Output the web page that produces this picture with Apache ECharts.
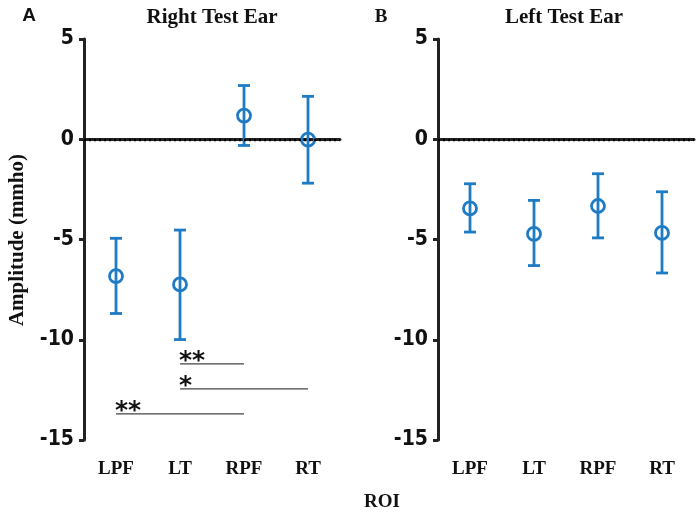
<!DOCTYPE html>
<html>
<head>
<meta charset="utf-8">
<script src="https://cdn.jsdelivr.net/npm/echarts@6/dist/echarts.min.js"></script>
<style>html,body{margin:0;padding:0;background:#fff}#c{width:700px;height:515px}</style>
</head>
<body>
<div id="c"></div>
<script>
// ---- data ----
const categories = ['LPF', 'LT', 'RPF', 'RT'];
const yTicks = [5, 0, -5, -10, -15];
// Right test ear: mean, lower, upper
const rightMean  = [-6.83, -7.24, 1.18, -0.02];
const rightLower = [-8.69, -9.99, -0.31, -2.19];
const rightUpper = [-4.94, -4.53, 2.68, 2.14];
// Left test ear
const leftMean  = [-3.45, -4.72, -3.33, -4.67];
const leftLower = [-4.63, -6.30, -4.92, -6.67];
const leftUpper = [-2.22, -3.05, -1.72, -2.62];
// significance brackets (right ear): from category, to category, y level, label
const sigFrom  = ['LT', 'LT', 'LPF'];
const sigTo    = ['RPF', 'RT', 'RPF'];
const sigY     = [-11.2, -12.45, -13.7];
const sigLabel = ['**', '*', '**'];

const BLUE = '#1f7bc4';
const AXIS = '#222';
const SERIF = "'Liberation Serif', 'DejaVu Serif', serif";
const NARROW = "'Liberation Sans Narrow', 'DejaVu Sans Condensed', sans-serif";

const chart = echarts.init(document.getElementById('c'));

function xAxisCfg(gi) {
  return {
    type: 'category', gridIndex: gi, data: categories, boundaryGap: true,
    axisLine: { lineStyle: { color: AXIS, width: 3 } },
    axisTick: { alignWithLabel: true, length: 6, lineStyle: { color: AXIS, width: 3 } },
    axisLabel: { margin: 20, color: '#111', fontFamily: SERIF, fontWeight: 'bold', fontSize: 19 },
    splitLine: { show: false }
  };
}
function yAxisCfg(gi) {
  return {
    type: 'value', gridIndex: gi, min: -15, max: 5, interval: 5,
    axisLine: { show: true, lineStyle: { color: AXIS, width: 3 } },
    axisTick: { show: true, length: 5, lineStyle: { color: AXIS, width: 3 } },
    axisLabel: { margin: 10, color: '#111', fontFamily: NARROW, fontWeight: 'bold', fontSize: 21,
      formatter: v => yTicks.includes(v) ? String(v) : '' },
    splitLine: { show: false }
  };
}

function errData(mean, lo, hi) {
  return categories.map((c, i) => [i, mean[i], lo[i], hi[i]]);
}
function errRender(params, api) {
  const x = api.value(0);
  const lo = api.coord([x, api.value(2)]);
  const hi = api.coord([x, api.value(3)]);
  const hw = 6;
  const st = { stroke: BLUE, lineWidth: 2.8, fill: null };
  return {
    type: 'group',
    children: [
      { type: 'line', shape: { x1: lo[0], y1: lo[1], x2: hi[0], y2: hi[1] }, style: st },
      { type: 'line', shape: { x1: lo[0] - hw, y1: lo[1], x2: lo[0] + hw, y2: lo[1] }, style: st },
      { type: 'line', shape: { x1: hi[0] - hw, y1: hi[1], x2: hi[0] + hw, y2: hi[1] }, style: st }
    ]
  };
}
function scatterSeries(gi, mean) {
  return {
    type: 'scatter', xAxisIndex: gi, yAxisIndex: gi, z: 2,
    data: mean.map((m, i) => [i, m]),
    symbol: 'circle', symbolSize: 13,
    itemStyle: { color: 'rgba(0,0,0,0)', borderColor: BLUE, borderWidth: 2.8, opacity: 1 },
    emphasis: { disabled: true },
    markLine: {
      silent: true, symbol: ['none', 'none'], label: { show: false },
      lineStyle: { type: [2, 3], color: '#000', width: 2.4 },
      data: [{ yAxis: 0 }], animation: false
    }
  };
}

const sigData = sigFrom.map((f, i) => [categories.indexOf(f), categories.indexOf(sigTo[i]), sigY[i], sigLabel[i]]);

const option = {
  animation: false,
  backgroundColor: '#fff',
  grid: [
    { left: 84, top: 39, width: 256, height: 401 },
    { left: 438, top: 39, width: 256, height: 401 }
  ],
  xAxis: [xAxisCfg(0), xAxisCfg(1)],
  yAxis: [yAxisCfg(0), yAxisCfg(1)],
  graphic: [
    { type: 'text', x: 29, y: 16, style: { text: 'A', textAlign: 'center', textVerticalAlign: 'middle', font: "bold 19px 'Liberation Sans', sans-serif", fill: '#111' } },
    { type: 'text', x: 212, y: 18, style: { text: 'Right Test Ear', textAlign: 'center', textVerticalAlign: 'middle', font: "bold 21px " + SERIF, fill: '#111' } },
    { type: 'text', x: 381, y: 17, style: { text: 'B', textAlign: 'center', textVerticalAlign: 'middle', font: "bold 19px " + SERIF, fill: '#111' } },
    { type: 'text', x: 564, y: 18, style: { text: 'Left Test Ear', textAlign: 'center', textVerticalAlign: 'middle', font: "bold 21px " + SERIF, fill: '#111' } },
    { type: 'text', x: 18, y: 240, rotation: Math.PI / 2, style: { text: 'Amplitude (mmho)', textAlign: 'center', textVerticalAlign: 'middle', font: "bold 21px " + SERIF, fill: '#111' } },
    { type: 'text', x: 382, y: 502, style: { text: 'ROI', textAlign: 'center', textVerticalAlign: 'middle', font: "bold 19px " + SERIF, fill: '#111' } }
  ],
  series: [
    scatterSeries(0, rightMean),
    { type: 'custom', xAxisIndex: 0, yAxisIndex: 0, z: 3, data: errData(rightMean, rightLower, rightUpper), renderItem: errRender, silent: true },
    scatterSeries(1, leftMean),
    { type: 'custom', xAxisIndex: 1, yAxisIndex: 1, z: 3, data: errData(leftMean, leftLower, leftUpper), renderItem: errRender, silent: true },
    {
      type: 'custom', xAxisIndex: 0, yAxisIndex: 0, z: 4, silent: true, data: sigData,
      renderItem: function (params, api) {
        const a = api.coord([api.value(0), api.value(2)]);
        const b = api.coord([api.value(1), api.value(2)]);
        const label = sigData[params.dataIndex][3];
        return {
          type: 'group',
          children: [
            { type: 'line', shape: { x1: a[0], y1: a[1], x2: b[0], y2: b[1] }, style: { stroke: '#444', lineWidth: 1.2 } },
            { type: 'text', x: a[0] - 1, y: a[1] + 10, style: { text: label, textAlign: 'left', textVerticalAlign: 'bottom', font: "bold 25px 'DejaVu Sans', sans-serif", fill: '#111' } }
          ]
        };
      }
    }
  ]
};
chart.setOption(option);
</script>
</body>
</html>
